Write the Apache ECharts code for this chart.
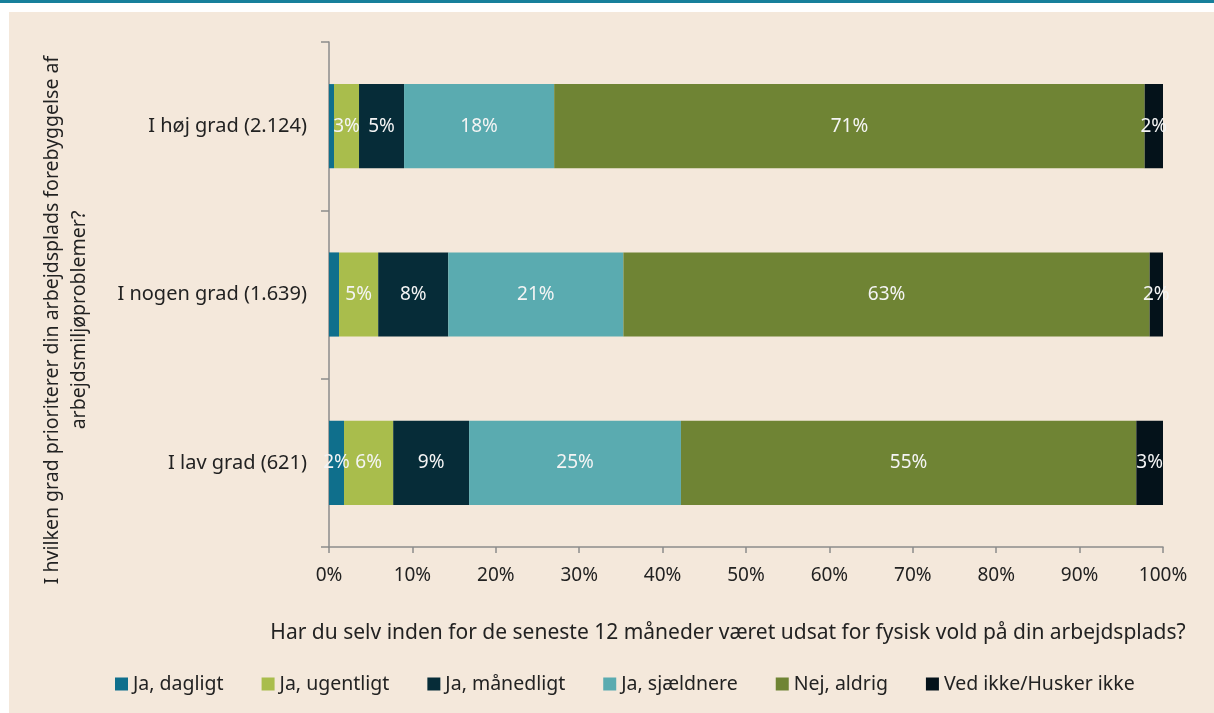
<!DOCTYPE html>
<html>
<head>
<meta charset="utf-8">
<script src="https://cdn.jsdelivr.net/npm/echarts@6/dist/echarts.min.js"></script>
<style>
  html, body { margin: 0; padding: 0; background: #fff; }
  #topline { position: absolute; left: 0; top: 0; width: 1214px; height: 3px; background: #17809b; }
  #panel { position: absolute; left: 9px; top: 12px; width: 1205px; height: 701px; background: #f4e8db; }
  #chart { position: absolute; left: 0; top: 0; width: 1214px; height: 713px; }
</style>
</head>
<body>
<div id="topline"></div>
<div id="panel"></div>
<div id="chart"></div>
<script>
// kategorier (oppefra og ned)
const categories = ['I høj grad (2.124)', 'I nogen grad (1.639)', 'I lav grad (621)']
const seriesNames = ['Ja, dagligt', 'Ja, ugentligt', 'Ja, månedligt', 'Ja, sjældnere', 'Nej, aldrig', 'Ved ikke/Husker ikke']
const dagligt = [0.6, 1.2, 1.8]
const ugentligt = [3.0, 4.7, 5.9]
const maanedligt = [5.4, 8.4, 9.1]
const sjaeldnere = [18.0, 21.0, 25.4]
const aldrig = [70.8, 63.1, 54.6]
const vedIkke = [2.2, 1.6, 3.2]
const xTicks = [0, 10, 20, 30, 40, 50, 60, 70, 80, 90, 100]

const colors = ['#0f6f8c', '#a9bd4c', '#062c38', '#5aabb0', '#6f8434', '#04121a']
const values = [dagligt, ugentligt, maanedligt, sjaeldnere, aldrig, vedIkke]
const font = '"Noto Sans", sans-serif'

let myChart = echarts.init(document.getElementById('chart'))

let series = seriesNames.map((name, i) => ({
  name: name,
  type: 'bar',
  stack: 'total',
  barWidth: '50%',
  data: values[i],
  itemStyle: { color: colors[i] },
  label: {
    show: true,
    position: 'inside',
    color: '#f4f4f4',
    fontFamily: font,
    fontSize: 19,
    formatter: p => (Math.round(p.value) >= 2 ? Math.round(p.value) + '%' : '')
  }
}))

let option = {
  animation: false,
  textStyle: { fontFamily: font },
  grid: {
    left: 329,
    right: 51,
    top: 42,
    bottom: 166
  },
  xAxis: {
    type: 'value',
    min: 0,
    max: 100,
    interval: 10,
    axisLine: { show: true, lineStyle: { color: '#8c8c8c', width: 1.5 } },
    axisTick: { show: true, length: 6, lineStyle: { color: '#8c8c8c', width: 1.5 } },
    splitLine: { show: false },
    axisLabel: {
      margin: 19,
      color: '#222',
      fontSize: 19,
      fontFamily: font,
      formatter: v => (xTicks.includes(v) ? v + '%' : '')
    }
  },
  yAxis: {
    type: 'category',
    inverse: true,
    data: categories,
    axisLine: { show: true, lineStyle: { color: '#8c8c8c', width: 1.5 } },
    axisTick: { show: true, length: 8, lineStyle: { color: '#8c8c8c', width: 1.5 } },
    axisLabel: {
      margin: 22,
      color: '#222',
      fontSize: 20,
      fontFamily: font
    }
  },
  legend: {
    data: seriesNames,
    bottom: 14,
    left: 110,
    itemWidth: 13,
    itemHeight: 13,
    itemGap: 38,
    icon: 'rect',
    textStyle: { color: '#222', fontSize: 19.5, fontFamily: font }
  },
  graphic: [
    {
      type: 'text',
      x: 66,
      y: 320,
      rotation: Math.PI / 2,
      style: {
        text: 'I hvilken grad prioriterer din arbejdsplads forebyggelse af\narbejdsmiljøproblemer?',
        align: 'center',
        verticalAlign: 'middle',
        fill: '#222',
        fontSize: 19.5,
        lineHeight: 27,
        fontFamily: font
      }
    },
    {
      type: 'text',
      x: 728,
      y: 633,
      style: {
        text: 'Har du selv inden for de seneste 12 måneder været udsat for fysisk vold på din arbejdsplads?',
        align: 'center',
        verticalAlign: 'middle',
        fill: '#222',
        fontSize: 21,
        fontFamily: font
      }
    }
  ],
  series: series
}
myChart.setOption(option, true)
</script>
</body>
</html>
